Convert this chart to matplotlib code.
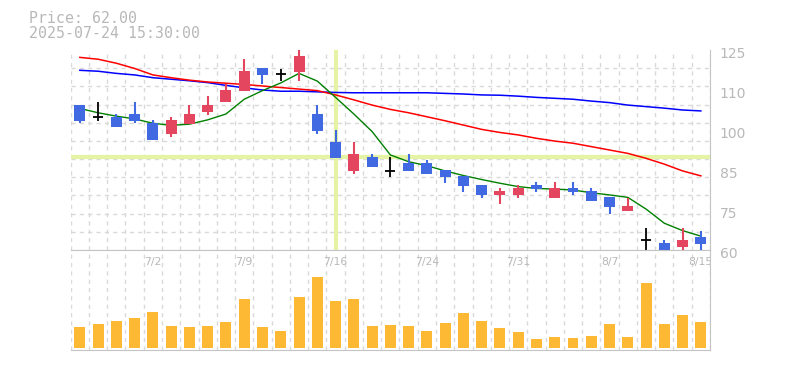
import numpy as np
import matplotlib.pyplot as plt
from matplotlib.transforms import ScaledTranslation

# trading days (Japan market, 2025)
dates = ['6/26', '6/27', '6/30', '7/1', '7/2', '7/3', '7/4', '7/7', '7/8', '7/9',
         '7/10', '7/11', '7/14', '7/15', '7/16', '7/17', '7/18', '7/22', '7/23', '7/24',
         '7/25', '7/28', '7/29', '7/30', '7/31', '8/1', '8/4', '8/5', '8/6', '8/7',
         '8/8', '8/12', '8/13', '8/14', '8/15']

opens = [107.1, 103.1, 103.1, 104.2, 101.3, 97.8, 101.1, 105.0, 108.1, 111.8,
         119.2, 117.1, 117.9, 104.2, 95.1, 85.8, 90.2, 85.8, 88.3, 88.3,
         86.0, 84.1, 81.1, 77.9, 77.9, 81.1, 77.0, 80.2, 79.2, 77.2,
         72.8, 63.3, 62.4, 61.1, 64.2]
highs = [107.1, 108.1, 104.2, 108.1, 102.3, 103.2, 107.1, 110.0, 114.0, 122.1,
         119.2, 118.7, 125.0, 107.2, 99.0, 95.2, 91.2, 90.3, 91.2, 89.3,
         86.0, 84.1, 81.1, 80.1, 81.0, 82.0, 82.0, 82.0, 80.1, 77.2,
         76.9, 67.0, 63.3, 67.0, 66.2]
lows = [101.2, 102.0, 100.1, 101.2, 95.8, 96.8, 101.1, 103.9, 108.1, 111.8,
        114.1, 115.0, 115.0, 97.8, 90.0, 84.8, 87.1, 83.8, 85.8, 84.8,
        81.9, 79.0, 77.0, 75.0, 77.0, 79.0, 77.0, 78.0, 76.0, 71.8,
        72.8, 59.5, 59.0, 59.5, 59.5]
closes = [102.0, 103.1, 100.1, 102.0, 95.8, 102.3, 104.2, 107.1, 112.0, 118.2,
          117.0, 117.1, 123.0, 98.8, 90.0, 91.2, 87.1, 85.8, 85.8, 84.8,
          83.8, 80.9, 78.0, 79.2, 80.2, 79.8, 80.2, 79.0, 76.0, 74.1,
          74.3, 63.3, 59.5, 63.3, 62.0]

# moving averages
ma_short = [106.0, 104.6, 103.5, 102.6, 101.2, 100.5, 100.9, 102.3, 104.2, 109.0,
            111.8, 114.3, 117.4, 114.9, 109.6, 104.2, 98.5, 90.9, 88.7, 87.4,
            85.7, 84.2, 82.9, 81.7, 80.6, 80.0, 79.8, 79.5, 78.6, 77.9,
            77.1, 73.3, 68.7, 66.3, 64.5]
ma_mid = [122.6, 122.0, 120.7, 119.0, 116.9, 116.0, 115.2, 114.6, 114.2, 113.8,
          113.3, 112.8, 112.3, 111.8, 110.4, 108.8, 107.1, 105.7, 104.6, 103.3,
          102.0, 100.6, 99.2, 98.2, 97.4, 96.3, 95.4, 94.7, 93.6, 92.5,
          91.4, 89.8, 87.9, 85.7, 84.1]
ma_long = [118.4, 118.1, 117.4, 116.9, 116.0, 115.5, 115.0, 114.4, 113.5, 112.7,
           112.0, 111.6, 111.6, 111.4, 111.2, 111.1, 111.1, 111.1, 111.1, 111.1,
           110.9, 110.7, 110.4, 110.3, 110.0, 109.6, 109.3, 109.0, 108.4, 107.9,
           107.1, 106.6, 106.1, 105.5, 105.2]

volumes = [210, 240, 270, 300, 360, 220, 210, 220, 260, 490,
           210, 170, 510, 710, 470, 490, 220, 230, 220, 170,
           250, 350, 270, 200, 160, 90, 110, 100, 120, 240,
           110, 650, 240, 330, 260]

price_ticks = [125, 112, 99, 86, 73, 60]
price_labels = ['125', '110', '100', '85', '75', '60']
label_idx = [4, 9, 14, 19, 24, 29, 34]

cross_idx = 14
cross_price = 90.2

up_col = '#e4465f'
down_col = '#4169e1'
grid_col = '#d9d9d9'
spine_col = '#c4c4c4'
text_col = '#b8b8b8'

fig = plt.figure(figsize=(7.85, 3.70), dpi=100)
ax = fig.add_axes([70.7 / 785, 1 - 250 / 370, (710 - 70.7) / 785, 200 / 370])
axv = fig.add_axes([70.7 / 785, 1 - 350 / 370, (710 - 70.7) / 785, 100 / 370])

x = np.arange(len(dates))
n = len(dates)

for a in (ax, axv):
    a.set_xlim(-0.5, n - 0.5)
    a.set_xticks([])
    a.set_xticks(np.arange(n + 1) - 0.5, minor=True)
    a.grid(which='minor', axis='x', color=grid_col, linestyle=(0, (3, 3)), lw=1)
    a.tick_params(which='both', length=0, labelbottom=False, labelleft=False)
    a.spines['left'].set_visible(False)
    a.spines['top'].set_visible(False)
    a.spines['right'].set_color(spine_col)
    a.spines['bottom'].set_color(spine_col)
    a.set_axisbelow(True)

# price panel
ax.set_ylim(60, 125)
ax.set_yticks(np.linspace(60, 125, 12), minor=True)
ax.grid(which='minor', axis='y', color=grid_col, linestyle=(0, (3, 3)), lw=1)
ax.yaxis.tick_right()
ax.set_yticks(price_ticks, labels=price_labels)
ax.tick_params(axis='y', which='both', length=0, pad=7, labelright=True,
               labelsize=10, labelcolor=text_col)
for lbl in ax.get_yticklabels():
    lbl.set_transform(lbl.get_transform() + ScaledTranslation(0, -3 / 100, fig.dpi_scale_trans))

ax.axvline(cross_idx, ymin=0.01, ymax=0.99, color='#e4f4a4', lw=3, zorder=1)
ax.axhline(cross_price, color='#e4f4a4', lw=3, zorder=1)

ax.plot(x, ma_long, color='#0000ff', lw=1.1, zorder=2)
ax.plot(x, ma_mid, color='#ff0000', lw=1.1, zorder=2)
ax.plot(x, ma_short, color='#008000', lw=1.0, zorder=2)

for i in range(n):
    o, h, l, c = opens[i], highs[i], lows[i], closes[i]
    if o == c:
        ax.vlines(i, l, h, color='black', lw=1.3, zorder=3)
        ax.hlines(o, i - 0.28, i + 0.28, color='black', lw=1.3, zorder=3)
        continue
    col = up_col if c > o else down_col
    ax.vlines(i, l, h, color=col, lw=1.5, zorder=3)
    ax.bar(i, abs(c - o), bottom=min(o, c), width=0.6, color=col, zorder=4)

# volume panel
axv.set_ylim(-23, 977)
axv.spines['top'].set_visible(True)
axv.spines['top'].set_color(spine_col)
axv.bar(x, volumes, width=0.6, color='#fdb933', zorder=2)
for i in label_idx:
    axv.text(i, 0.875, dates[i], transform=axv.get_xaxis_transform(), ha='center',
             va='center', fontsize=7.8, color=text_col, clip_on=True)

fig.text(29.3 / 785, 1 - 22.7 / 370, 'Price: 62.00', family='DejaVu Sans Mono',
         fontsize=10.7, color=text_col, va='baseline')
fig.text(29.3 / 785, 1 - 37.5 / 370, '2025-07-24 15:30:00', family='DejaVu Sans Mono',
         fontsize=10.7, color=text_col, va='baseline')

fig.savefig('out.png', dpi=100)
